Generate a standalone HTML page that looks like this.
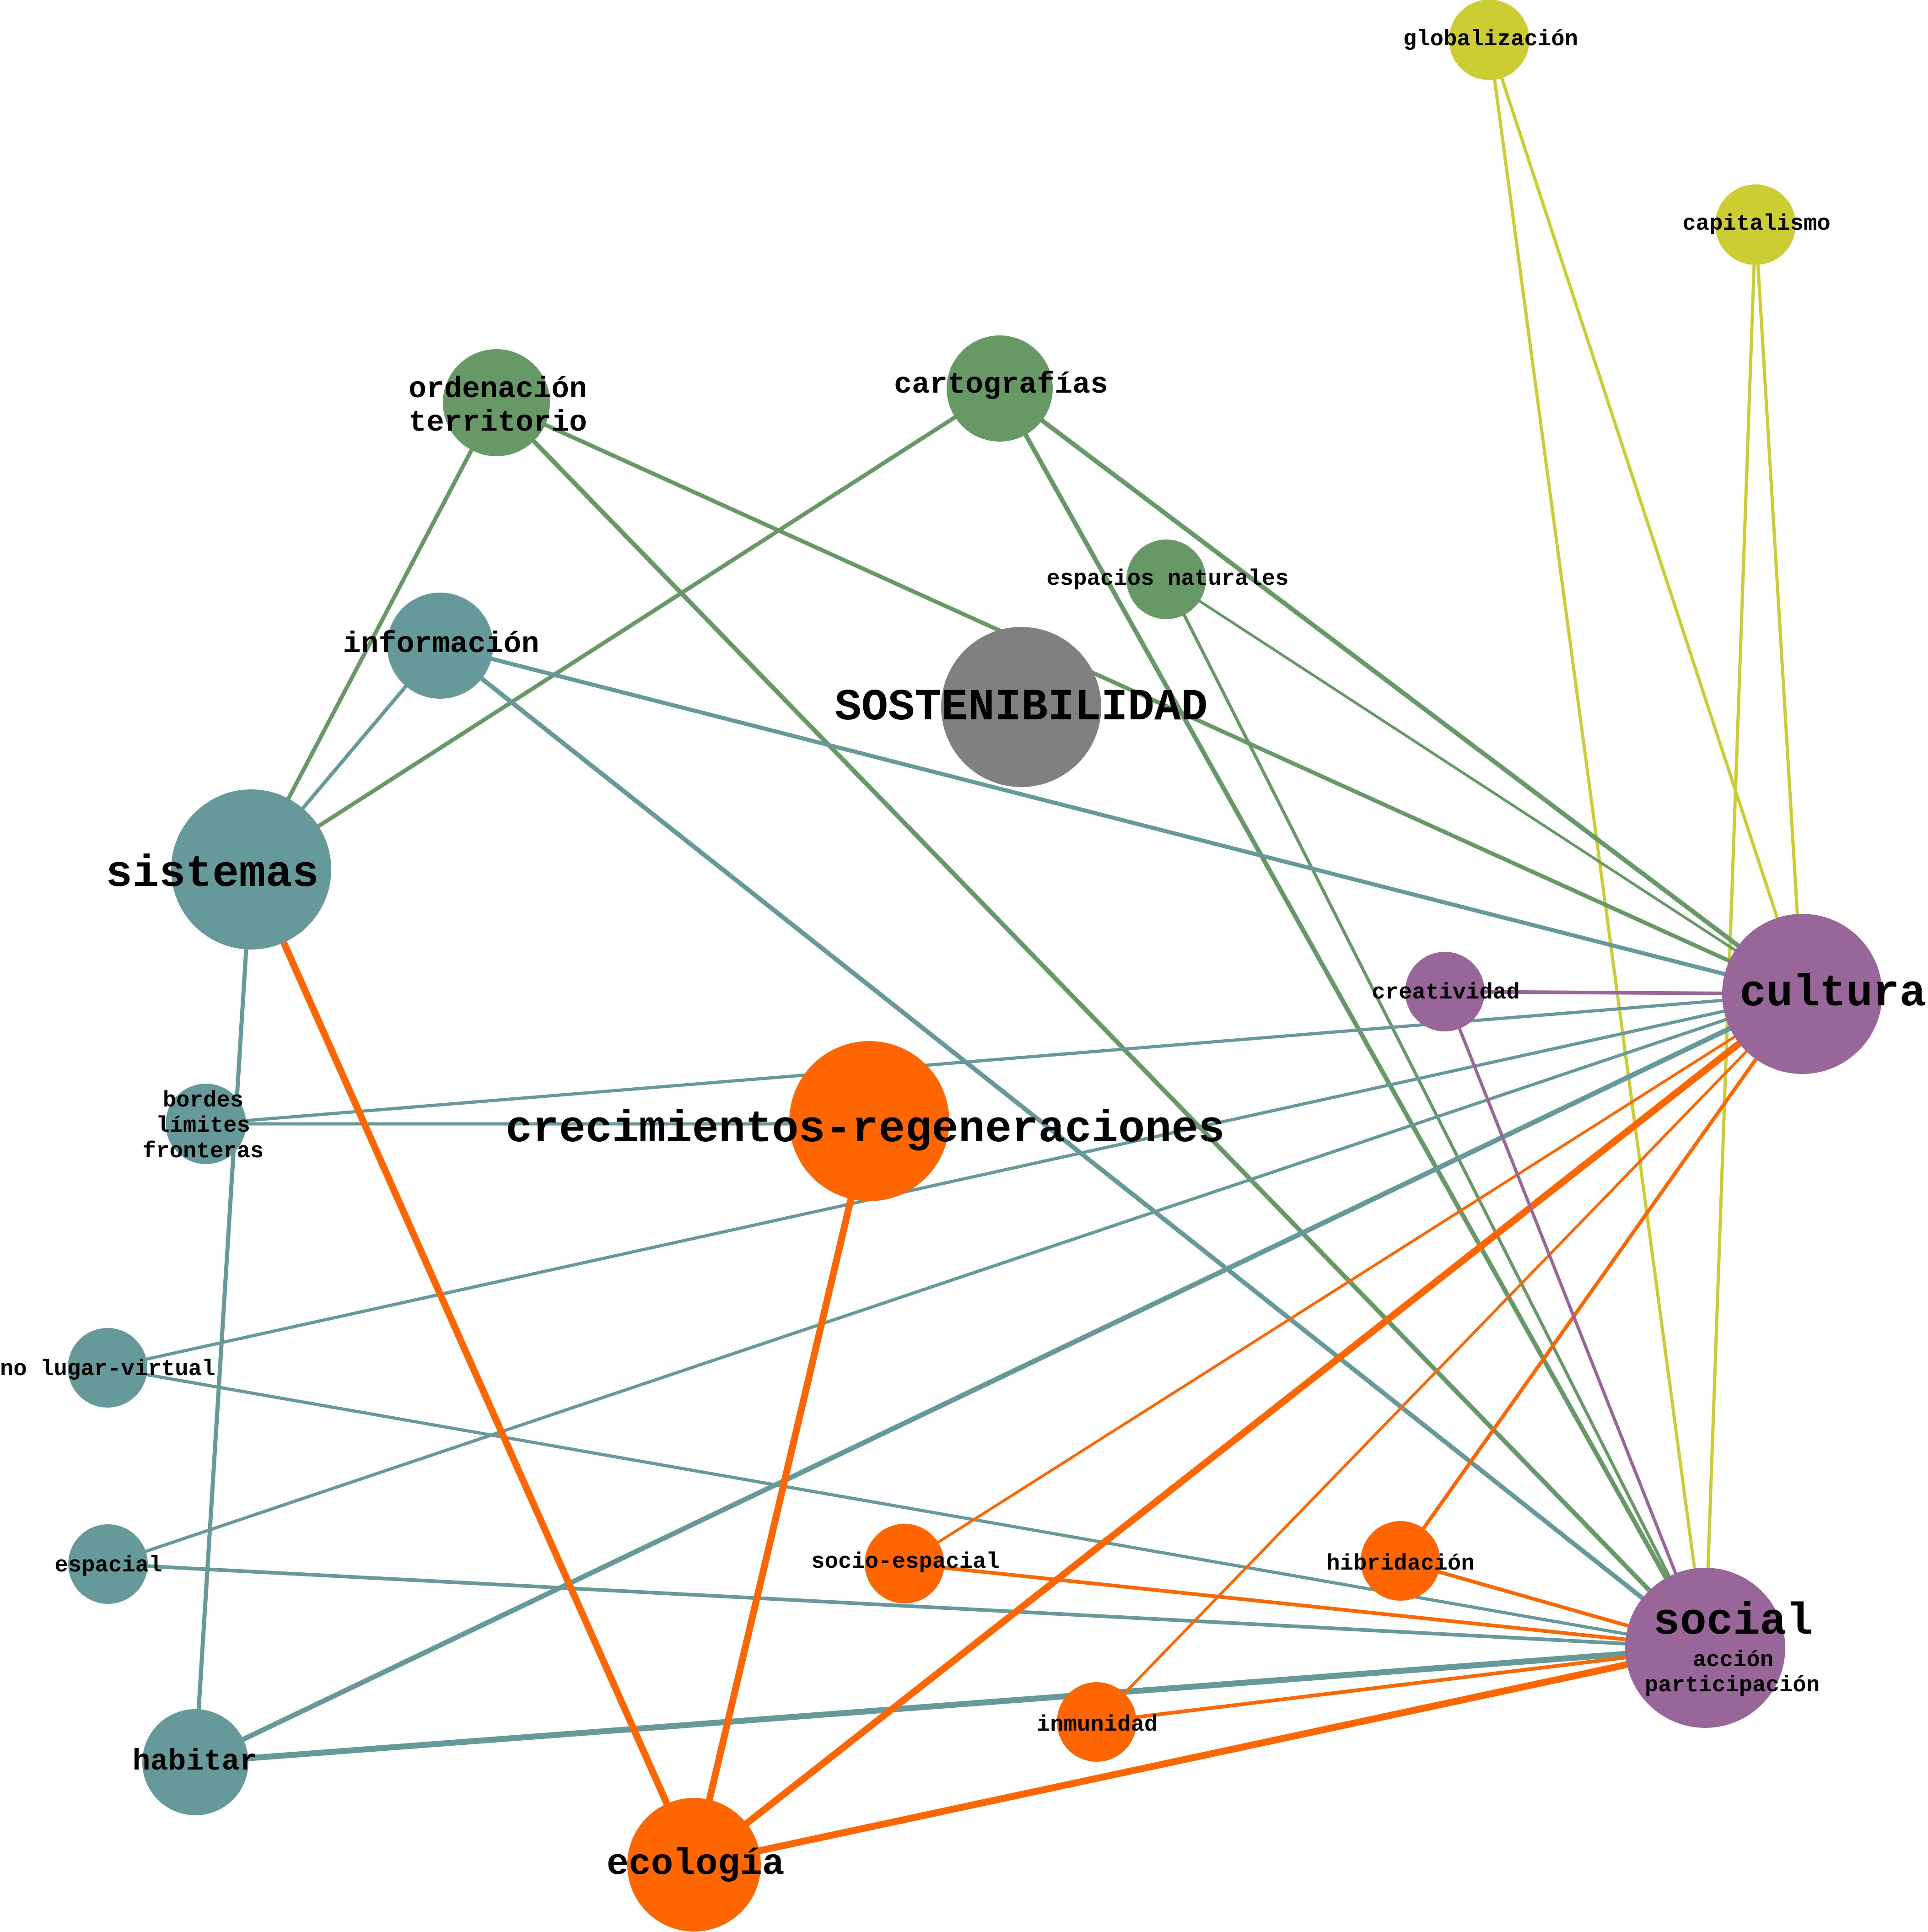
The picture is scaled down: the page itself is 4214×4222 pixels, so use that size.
<!DOCTYPE html>
<html>
<head>
<meta charset="utf-8">
<style>
  html, body { margin: 0; padding: 0; background: #ffffff; }
  svg { display: block; }
  text { font-family: "Liberation Mono", "Courier New", monospace; font-weight: bold; fill: #000; }
</style>
</head>
<body>
<svg xmlns="http://www.w3.org/2000/svg" width="4214" height="4222" viewBox="0 0 4214 4222">
  <rect x="0" y="0" width="4214" height="4222" fill="#ffffff"/>

  <!-- EDGES -->
  <g stroke-linecap="butt" fill="none">
    <!-- yellow -->
    <line x1="3255" y1="87" x2="3727" y2="3601" stroke="#cccc33" stroke-width="7"/>
    <line x1="3255" y1="87" x2="3939" y2="2172" stroke="#cccc33" stroke-width="7"/>
    <line x1="3837" y1="491" x2="3939" y2="2172" stroke="#cccc33" stroke-width="7"/>
    <line x1="3837" y1="491" x2="3727" y2="3601" stroke="#cccc33" stroke-width="7"/>

    <!-- green -->
    <line x1="1085" y1="880" x2="549" y2="1900" stroke="#669966" stroke-width="9"/>
    <line x1="1085" y1="880" x2="3727" y2="3601" stroke="#669966" stroke-width="10"/>
    <line x1="1085" y1="880" x2="3939" y2="2172" stroke="#669966" stroke-width="9"/>
    <line x1="2185" y1="849" x2="549" y2="1900" stroke="#669966" stroke-width="9"/>
    <line x1="2185" y1="849" x2="3727" y2="3601" stroke="#669966" stroke-width="10"/>
    <line x1="2185" y1="849" x2="3939" y2="2172" stroke="#669966" stroke-width="10"/>
    <line x1="2549" y1="1266" x2="3939" y2="2172" stroke="#669966" stroke-width="6"/>
    <line x1="2549" y1="1266" x2="3727" y2="3601" stroke="#669966" stroke-width="7"/>

    <!-- teal -->
    <line x1="962" y1="1411" x2="549" y2="1900" stroke="#669999" stroke-width="8"/>
    <line x1="962" y1="1411" x2="3939" y2="2172" stroke="#669999" stroke-width="9"/>
    <line x1="962" y1="1411" x2="3727" y2="3601" stroke="#669999" stroke-width="10"/>
    <line x1="549" y1="1900" x2="427" y2="3851" stroke="#669999" stroke-width="9"/>
    <line x1="450" y1="2456" x2="3939" y2="2172" stroke="#669999" stroke-width="7"/>
    <line x1="450" y1="2456" x2="1900" y2="2456" stroke="#669999" stroke-width="7"/>
    <line x1="235" y1="2989" x2="3939" y2="2172" stroke="#669999" stroke-width="7"/>
    <line x1="235" y1="2989" x2="3727" y2="3601" stroke="#669999" stroke-width="7"/>
    <line x1="236" y1="3418" x2="3939" y2="2172" stroke="#669999" stroke-width="7"/>
    <line x1="236" y1="3418" x2="3727" y2="3601" stroke="#669999" stroke-width="8"/>
    <line x1="427" y1="3851" x2="3939" y2="2172" stroke="#669999" stroke-width="11"/>
    <line x1="427" y1="3851" x2="3727" y2="3601" stroke="#669999" stroke-width="13"/>

    <!-- orange -->
    <line x1="549" y1="1900" x2="1517" y2="4075" stroke="#ff6600" stroke-width="15"/>
    <line x1="1900" y1="2450" x2="1517" y2="4075" stroke="#ff6600" stroke-width="15"/>
    <line x1="1517" y1="4075" x2="3939" y2="2172" stroke="#ff6600" stroke-width="15"/>
    <line x1="1517" y1="4075" x2="3727" y2="3601" stroke="#ff6600" stroke-width="15"/>
    <line x1="1977" y1="3417" x2="3939" y2="2172" stroke="#ff6600" stroke-width="6"/>
    <line x1="1977" y1="3417" x2="3727" y2="3601" stroke="#ff6600" stroke-width="8"/>
    <line x1="3061" y1="3411" x2="3939" y2="2172" stroke="#ff6600" stroke-width="8"/>
    <line x1="3061" y1="3411" x2="3727" y2="3601" stroke="#ff6600" stroke-width="8"/>
    <line x1="2397" y1="3763" x2="3939" y2="2172" stroke="#ff6600" stroke-width="6"/>
    <line x1="2397" y1="3763" x2="3727" y2="3601" stroke="#ff6600" stroke-width="8"/>

    <!-- purple -->
    <line x1="3158" y1="2167" x2="3939" y2="2172" stroke="#996699" stroke-width="8"/>
    <line x1="3158" y1="2167" x2="3727" y2="3601" stroke="#996699" stroke-width="7"/>
  </g>

  <!-- NODES -->
  <g stroke="none">
    <circle cx="3255" cy="87" r="88" fill="#cccc33"/>
    <circle cx="3837" cy="491" r="88" fill="#cccc33"/>
    <circle cx="1085" cy="880" r="117" fill="#669966"/>
    <circle cx="2185" cy="849" r="116" fill="#669966"/>
    <circle cx="2549" cy="1266" r="87" fill="#669966"/>
    <circle cx="962" cy="1411" r="116" fill="#669999"/>
    <circle cx="2232" cy="1545" r="175" fill="#808080"/>
    <circle cx="549" cy="1900" r="175" fill="#669999"/>
    <circle cx="3939" cy="2172" r="175" fill="#996699"/>
    <circle cx="3158" cy="2167" r="87" fill="#996699"/>
    <circle cx="450" cy="2456" r="88" fill="#669999"/>
    <circle cx="1900" cy="2450" r="175" fill="#ff6600"/>
    <circle cx="235" cy="2989" r="87" fill="#669999"/>
    <circle cx="236" cy="3418" r="87" fill="#669999"/>
    <circle cx="1977" cy="3417" r="87" fill="#ff6600"/>
    <circle cx="3061" cy="3411" r="87" fill="#ff6600"/>
    <circle cx="3727" cy="3601" r="175" fill="#996699"/>
    <circle cx="2397" cy="3763" r="87" fill="#ff6600"/>
    <circle cx="427" cy="3851" r="116" fill="#669999"/>
    <circle cx="1517" cy="4075" r="146" fill="#ff6600"/>
  </g>

  <!-- LABELS -->
  <g text-anchor="middle">
    <text x="3258" y="99" font-size="49">globalización</text>
    <text x="3839" y="502" font-size="49">capitalismo</text>
    <text x="1088" y="868" font-size="65">ordenación</text>
    <text x="1088" y="941" font-size="65">territorio</text>
    <text x="2188" y="858" font-size="65">cartografías</text>
    <text x="2552" y="1278" font-size="49">espacios naturales</text>
    <text x="964" y="1425" font-size="65">información</text>
    <text x="2232" y="1572" font-size="97">SOSTENIBILIDAD</text>
    <text x="464" y="1936" font-size="97">sistemas</text>
    <text x="3160" y="2182" font-size="49">creatividad</text>
    <text x="4006" y="2197" font-size="97">cultura</text>
    <text x="444" y="2418" font-size="49">bordes</text>
    <text x="444" y="2473" font-size="49">límites</text>
    <text x="444" y="2529" font-size="49">fronteras</text>
    <text x="1891" y="2494" font-size="97">crecimientos-regeneraciones</text>
    <text x="237" y="3434" font-size="49">espacial</text>
    <text x="1979" y="3426" font-size="49">socio-espacial</text>
    <text x="3061" y="3430" font-size="49">hibridación</text>
    <text x="3788" y="3570" font-size="97">social</text>
    <text x="3788" y="3641" font-size="49">acción</text>
    <text x="3786" y="3696" font-size="49">participación</text>
    <text x="2398" y="3782" font-size="49">inmunidad</text>
    <text x="426" y="3867" font-size="65">habitar</text>
    <text x="1520" y="4095" font-size="81">ecología</text>
  </g>
  <text x="0" y="3005" font-size="49" text-anchor="start">no lugar-virtual</text>
</svg>
</body>
</html>
